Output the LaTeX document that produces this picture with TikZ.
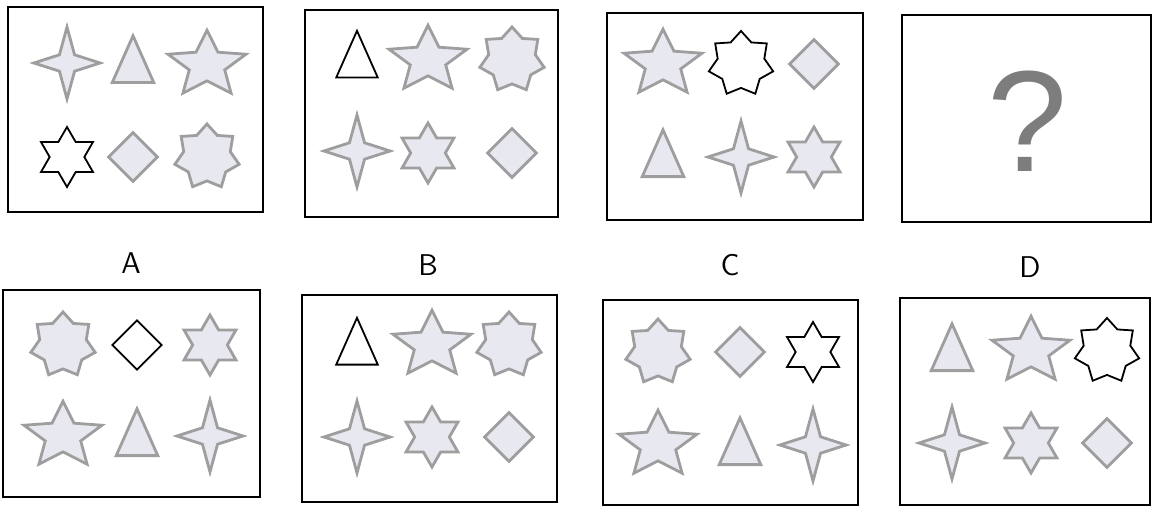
\documentclass[tikz,border=0pt]{standalone}
\usepackage{fontspec}
\usepackage{tikz}
\usetikzlibrary{shapes.geometric}
\usepackage{xcolor}
\newfontfamily\qfont{Liberation Sans}

\definecolor{shpfill}{RGB}{232,232,240}
\definecolor{shpline}{RGB}{158,158,158}
\definecolor{qgrey}{RGB}{125,125,125}

\tikzset{
  shp/.style={draw=shpline, fill=shpfill, line width=1.4pt, inner sep=0pt},
  blank/.style={draw=black, fill=white, line width=0.9pt},
  frame/.style={draw=black, line width=1.2pt},
  fourstar/.style={shp, star, star points=4, star point ratio=3.1, minimum size=36pt, xscale=0.92},
  fivestar/.style={shp, star, star points=5, star point ratio=2.2, minimum size=41pt, yscale=0.85},
  sixstar/.style={shp, star, star points=6, star point ratio=1.73, minimum size=30pt},
  sevenstar/.style={shp, star, star points=7, star point ratio=1.38, minimum size=33pt},
  tri/.style={shp, regular polygon, regular polygon sides=3, minimum size=24pt, yscale=1.3},
  diam/.style={shp, diamond, minimum width=25pt, minimum height=25pt},
  letter/.style={font=\sffamily\fontsize{15}{18}\selectfont}
}

\begin{document}
\begin{tikzpicture}[x=0.5pt, y=-0.5pt]
\useasboundingbox (0,0) rectangle (1156,508);

% top row
\begin{scope}[shift={(8,7)}]
\draw[frame] (0,0) rectangle (255,205);
\node[fourstar] (t1a) at (59,56) {};
\node[tri] (t1b) at (125,60) {};
\node[fivestar] (t1c) at (199,58) {};
\node[sixstar, blank] (t1d) at (59,150) {};
\node[diam] (t1e) at (125,150) {};
\node[sevenstar] (t1f) at (199,150) {};
\end{scope}

\begin{scope}[shift={(305,10)}]
\draw[frame] (0,0) rectangle (253,207);
\node[tri, blank] (t2a) at (52,52) {};
\node[fivestar] (t2b) at (123,50) {};
\node[sevenstar] (t2c) at (207,50) {};
\node[fourstar] (t2d) at (52,141) {};
\node[sixstar] (t2e) at (123,143) {};
\node[diam] (t2f) at (207,143) {};
\end{scope}

\begin{scope}[shift={(607,13)}]
\draw[frame] (0,0) rectangle (256,207);
\node[fivestar] (t3a) at (56,51) {};
\node[sevenstar, blank] (t3b) at (134,51) {};
\node[diam] (t3c) at (207,51) {};
\node[tri] (t3d) at (56,148) {};
\node[fourstar] (t3e) at (134,144) {};
\node[sixstar] (t3f) at (207,144) {};
\end{scope}

\begin{scope}[shift={(902,15)}]
\draw[frame] (0,0) rectangle (249,207);
\node[text=qgrey, font=\qfont\fontsize{72}{72}\selectfont] (qm) at (126,106) {?};
\end{scope}

% labels
\node[letter] (labA) at (131,263) {A};
\node[letter] (labB) at (428,265) {B};
\node[letter] (labC) at (730,265) {C};
\node[letter] (labD) at (1030,267) {D};

% bottom row
\begin{scope}[shift={(3,290)}]
\draw[frame] (0,0) rectangle (257,207);
\node[sevenstar] (bAa) at (60,55) {};
\node[diam, blank] (bAb) at (134,55) {};
\node[sixstar] (bAc) at (207,55) {};
\node[fivestar] (bAd) at (60,146) {};
\node[tri] (bAe) at (134,150) {};
\node[fourstar] (bAf) at (207,146) {};
\end{scope}

\begin{scope}[shift={(302,295)}]
\draw[frame] (0,0) rectangle (255,207);
\node[tri, blank] (bBa) at (55,54) {};
\node[fivestar] (bBb) at (130,50) {};
\node[sevenstar] (bBc) at (207,50) {};
\node[fourstar] (bBd) at (55,142) {};
\node[sixstar] (bBe) at (130,142) {};
\node[diam] (bBf) at (207,142) {};
\end{scope}

\begin{scope}[shift={(603,300)}]
\draw[frame] (0,0) rectangle (255,205);
\node[sevenstar] (bCa) at (55,52) {};
\node[diam] (bCb) at (137,52) {};
\node[sixstar, blank] (bCc) at (210,52) {};
\node[fivestar] (bCd) at (55,145) {};
\node[tri] (bCe) at (137,149) {};
\node[fourstar] (bCf) at (210,145) {};
\end{scope}

\begin{scope}[shift={(900,298)}]
\draw[frame] (0,0) rectangle (250,207);
\node[tri] (bDa) at (52,57) {};
\node[fivestar] (bDb) at (131,53) {};
\node[sevenstar, blank] (bDc) at (207,53) {};
\node[fourstar] (bDd) at (52,145) {};
\node[sixstar] (bDe) at (131,145) {};
\node[diam] (bDf) at (207,145) {};
\end{scope}

\end{tikzpicture}
\end{document}
